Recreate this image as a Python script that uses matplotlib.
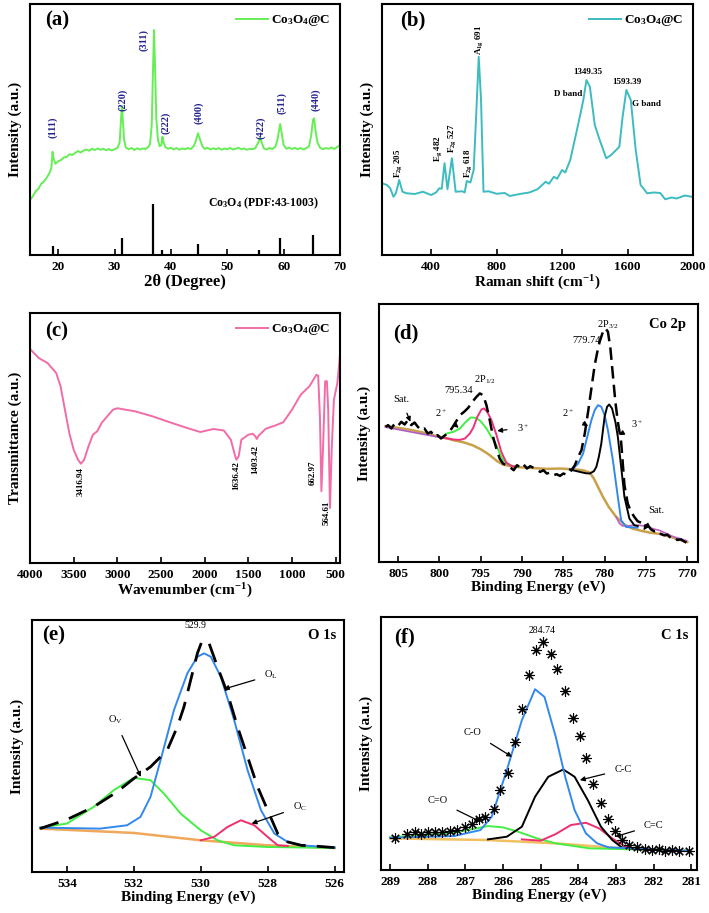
import matplotlib
matplotlib.use('Agg')
import matplotlib.pyplot as plt
import numpy as np

plt.rcParams['font.family'] = ['Liberation Serif', 'DejaVu Serif']
plt.rcParams['mathtext.default'] = 'regular'

# ---------------- (a) XRD ----------------
xrd_2theta = [15, 15.5, 16, 16.5, 17, 17.5, 18, 18.5, 18.8, 19.0, 19.2, 19.5, 20, 20.5, 21, 21.5, 22, 22.5,
              23, 23.5, 24, 24.5, 25, 25.5, 26, 26.5, 27, 27.5, 28, 28.5, 29, 29.5, 30, 30.5, 30.9, 31.1,
              31.3, 31.5, 31.7, 32, 32.5, 33, 33.5, 34, 34.5, 35, 35.5, 36, 36.3, 36.6, 36.8, 37.0, 37.2,
              37.4, 37.7, 38, 38.3, 38.5, 38.7, 39, 39.5, 40, 40.5, 41, 41.5, 42, 42.5, 43, 43.5, 44,
              44.4, 44.8, 45.2, 45.6, 46, 46.5, 47, 47.5, 48, 48.5, 49, 49.5, 50, 50.5, 51, 51.5, 52,
              52.5, 53, 53.5, 54, 54.5, 55, 55.5, 55.8, 56.1, 56.5, 57, 57.5, 58, 58.5, 58.9, 59.2,
              59.4, 59.7, 60, 60.5, 61, 61.5, 62, 62.5, 63, 63.5, 64, 64.5, 64.9, 65.2, 65.4, 65.7,
              66, 66.5, 67, 67.5, 68, 68.5, 69, 69.5, 70]
xrd_int = [22, 23.5, 25.5, 26.5, 28.5, 29.5, 31, 33, 35, 41.3, 38.5, 36.5, 37.5, 38, 39, 39.2, 40.3, 40,
           40.8, 41.6, 41, 41.8, 42.2, 41.7, 42.5, 42, 42.6, 42.1, 42.5, 41.9, 42.4, 41.8, 42.3, 42.8, 45, 52,
           59.6, 53, 46, 43, 42.3, 42.8, 42, 42.7, 42.2, 42.6, 42.4, 43.2, 44.5, 52, 72, 90, 74,
           55, 46, 43.5, 44, 47.3, 45, 43.2, 42.5, 42.9, 42.2, 42.8, 42.1, 42.6, 42.3, 42.8, 42.4, 43.4,
           45.5, 48.7, 46, 43.5, 42.4, 42.9, 42.2, 42.7, 42.3, 42.8, 42.1, 42.6, 42.3, 42.8, 42.2, 42.5, 42.9,
           42.3, 42.6, 42.1, 42.5, 42.3, 42.8, 45, 47, 45, 42.6, 42.2, 42.8, 42.4, 43.2, 46, 50,
           52.4, 48, 44, 42.5, 43, 42.4, 42.9, 42.3, 42.8, 42.2, 42.7, 43.5, 48, 54, 54.7, 49,
           45, 42.8, 42.3, 42.8, 42.5, 43, 42.4, 43.2, 44]
pdf_pos = [19.0, 31.3, 36.9, 38.5, 44.8, 55.6, 59.4, 65.2]
pdf_int = [3.6, 6.9, 20.4, 2.0, 4.3, 2.0, 6.7, 7.9]
hkl_labels = ['(111)', '(220)', '(311)', '(222)', '(400)', '(422)', '(511)', '(440)']
hkl_x = [19.0, 31.45, 35.1, 39.1, 44.9, 55.9, 59.7, 65.6]
hkl_y = [51.3, 62, 86, 53, 56.7, 51, 60.7, 62]

# ---------------- (b) Raman ----------------
raman_shift = [100, 130, 150, 170, 185, 205, 225, 250, 300, 350, 400, 430, 450, 465, 482, 500, 527, 550,
               590, 605, 618, 640, 660, 675, 691, 705, 720, 750, 800, 850, 880, 950, 1000, 1050, 1100,
               1120, 1150, 1170, 1200, 1220, 1250, 1300, 1330, 1349, 1370, 1400, 1430, 1470, 1500, 1550,
               1570, 1593, 1620, 1650, 1680, 1720, 1760, 1800, 1830, 1870, 1900, 1950, 2000]
raman_int = [28.7, 28, 26.7, 23.3, 24.7, 30, 25.3, 24.7, 24.4, 25.3, 24, 25, 26.7, 26.5, 36.7, 26.3, 38.7,
             25.3, 25.5, 25, 29.6, 29, 34, 55.3, 79.3, 62, 25.3, 25.5, 24.5, 24.8, 23.6, 24.5, 25, 26.3,
             29.3, 28.5, 31.3, 30.5, 34, 33, 38, 52.7, 62, 70, 67.3, 52, 46, 38.7, 40, 43.3, 55.3, 66, 62,
             42, 28, 24.7, 25, 24.8, 22.3, 23, 22.6, 23.8, 23.2]

# ---------------- (c) FTIR ----------------
ftir_wn = [4000, 3900, 3800, 3750, 3700, 3650, 3600, 3550, 3500, 3450, 3417, 3380, 3330, 3280, 3230, 3180,
           3100, 3050, 3000, 2900, 2800, 2600, 2400, 2200, 2050, 1900, 1780, 1700, 1650, 1636, 1610, 1580,
           1500, 1450, 1420, 1403, 1380, 1300, 1200, 1100, 1000, 900, 800, 720, 700, 680, 663, 645, 620,
           600, 585, 565, 545, 520, 480, 450]
ftir_t = [85.6, 82, 80, 78, 76, 70.7, 61.3, 52, 45.3, 41.3, 39.7, 41.3, 46.7, 51.3, 52.7, 56, 59.3, 61.3,
          61.9, 61.3, 60.7, 58.7, 56.3, 54, 52.4, 53.6, 53, 49.3, 42.7, 41.3, 42.7, 49.3, 51.3, 51.7, 50.7,
          49.6, 51, 53.7, 54.9, 56.3, 61.3, 67.3, 70.7, 75.3, 74.9, 58.7, 28.7, 45.3, 72.7, 72.7, 61.3, 22,
          45.3, 65.3, 72, 83.3]

# ---------------- (d) Co 2p ----------------
co_be = [806.5, 806.2, 805.8, 805.4, 805.0, 804.6, 804.2, 803.8, 803.4, 803.0, 802.6, 802.2, 801.8, 801.4,
         801.0, 800.6, 800.2, 799.8, 799.4, 799.0, 798.5, 798.0, 797.5, 797.0, 796.5, 796.0, 795.5, 795.1,
         794.7, 794.3, 793.9, 793.5, 793.1, 792.7, 792.3, 791.9, 791.5, 791.0, 790.6, 790.2, 789.8, 789.4,
         789.0, 788.6, 788.2, 787.8, 787.4, 787.0, 786.6, 786.2, 785.8, 785.4, 785.0, 784.6, 784.0, 783.6,
         783.2, 782.8, 782.4, 782.0, 781.6, 781.2, 780.8, 780.6, 780.2, 779.9, 779.6, 779.3, 779.0, 778.7,
         778.4, 778.0, 777.6, 777.2, 776.8, 776.4, 776.0, 775.6, 775.2, 774.8, 774.4, 774.0, 773.6, 773.2,
         772.8, 772.4, 772.0, 771.6, 771.2, 770.8, 770.4, 770.1]
co_int = [405, 410, 400, 415, 408, 420, 412, 425, 410, 418, 405, 395, 400, 385, 390, 375, 380, 370, 378,
          385, 400, 420, 440, 450, 462, 480, 495, 505, 500, 470, 425, 375, 340, 310, 295, 290, 285, 275, 290,
          283, 292, 280, 287, 282, 278, 270, 275, 265, 268, 260, 263, 258, 265, 262, 275, 290, 315, 335, 385,
          450, 520, 590, 640, 660, 690, 700, 690, 640, 560, 480, 420, 360, 230, 175, 150, 135, 122, 118, 108,
          112, 98, 92, 95, 84, 80, 82, 72, 74, 66, 68, 62, 58]
co_bg_be = [806.5, 805.0, 803.5, 802.0, 800.5, 799.0, 798.3, 797.0, 796.0, 795.0, 794.0, 793.0, 792.3, 791.0,
            789.0, 787.0, 785.4, 784.0, 783.0, 782.5, 781.8, 781.3, 780.8, 780.2, 779.5, 778.6, 777.6, 776.6,
            775.5, 774.5, 773.3, 772.0, 771.0, 770.0]
co_bg = [407, 402, 396, 388, 378, 370, 365, 358, 350, 338, 322, 302, 292, 285, 282, 279, 280, 278, 276, 274,
         268, 250, 225, 195, 165, 135, 112, 100, 93, 88, 84, 75, 67, 60]
co_sat1_be = [806.5, 805.0, 803.5, 802.0, 800.5, 800.0]
co_sat1 = [404, 397, 390, 383, 376, 374]
co_p12_2_be = [799.6, 799.1, 798.3, 797.5, 796.8, 796.2, 795.6, 795.0, 794.3, 793.7, 793.1, 792.6, 792.2,
               791.6, 791.0, 790.5]
co_p12_2 = [373, 385, 390, 400, 420, 433, 432, 422, 400, 375, 350, 320, 303, 292, 287, 285]
co_p12_3_be = [799.5, 798.3, 797.5, 796.9, 796.3, 795.9, 795.4, 794.9, 794.6, 794.2, 793.7, 793.1, 792.5,
               791.9, 791.3, 790.7]
co_p12_3 = [372, 367, 366, 370, 385, 402, 435, 457, 460, 450, 425, 382, 330, 298, 288, 285]
co_p32_2_be = [784.2, 783.8, 783.2, 782.6, 782.1, 781.6, 781.2, 780.8, 780.4, 780.0, 779.6, 779.0, 778.4,
               778.0, 777.4, 776.8, 776.0]
co_p32_2 = [278, 280, 295, 325, 375, 425, 455, 470, 465, 440, 395, 305, 195, 125, 105, 104, 103]
co_p32_3_be = [784.2, 783.0, 782.3, 781.8, 781.3, 781.0, 780.7, 780.4, 780.0, 779.7, 779.45, 779.1, 778.7,
               778.4, 778.0, 777.6, 777.0, 776.4, 776.0]
co_p32_3 = [277, 270, 266, 265, 272, 285, 315, 355, 435, 465, 472, 460, 420, 375, 285, 195, 130, 110, 108]
co_sat2_be = [778.6, 778.2, 777.8, 777.2, 776.6, 775.8, 775.0, 774.2, 773.3, 772.5, 771.7, 770.9, 770.1]
co_sat2 = [135, 115, 108, 108, 110, 110, 107, 100, 94, 85, 76, 70, 64]

# ---------------- (e) O 1s ----------------
o_env_be = [534.8, 534.0, 533.2, 532.5, 532.0, 531.5, 531.0, 530.7, 530.5, 530.3, 530.1, 529.95, 529.75,
            529.5, 529.2, 528.9, 528.6, 528.3, 528.0, 527.7, 527.4, 527.0, 526.5, 526.0]
o_env = [130, 157, 195, 240, 280, 315, 365, 435, 495, 575, 655, 695, 685, 615, 535, 435, 345, 255, 185, 115,
         90, 80, 77, 73]
o_bg_be = [534.8, 532.0, 530.0, 528.0, 526.0]
o_bg = [130, 117, 95, 80, 72]
o_v_be = [534.8, 534.0, 533.2, 532.6, 532.0, 531.5, 531.1, 530.6, 530.0, 529.5, 529.0, 528.0, 526.0]
o_v = [133, 145, 195, 245, 282, 275, 235, 175, 125, 95, 80, 75, 72]
o_l_be = [534.8, 533.0, 532.2, 531.8, 531.5, 531.2, 530.8, 530.4, 530.1, 529.9, 529.7, 529.4, 529.0, 528.6,
          528.2, 527.8, 527.4, 527.0, 526.0]
o_l = [133, 130, 140, 165, 225, 335, 485, 595, 645, 655, 645, 585, 455, 305, 185, 115, 90, 80, 73]
o_c_be = [530.0, 529.6, 529.2, 528.8, 528.4, 528.0, 527.7, 527.4]
o_c = [95, 105, 135, 155, 140, 105, 80, 78]

# ---------------- (f) C 1s ----------------
c_be = [288.88, 288.56, 288.35, 288.18, 287.98, 287.80, 287.61, 287.41, 287.23, 287.01, 286.83, 286.65,
        286.48, 286.25, 286.08, 285.87, 285.68, 285.50, 285.32, 285.13, 284.93, 284.73, 284.57, 284.35,
        284.15, 283.95, 283.80, 283.60, 283.39, 283.20, 283.02, 282.84, 282.65, 282.45, 282.22, 282.05,
        281.87, 281.69, 281.52, 281.34, 281.07]
c_int = [97, 108, 115, 107, 115, 113, 115, 117, 120, 128, 138, 152, 158, 182, 240, 292, 385, 485, 587, 662,
         685, 650, 605, 538, 458, 402, 336, 258, 202, 153, 118, 90, 75, 70, 63, 60, 62, 58, 60, 57, 58]
c_bg_be = [289.0, 286.4, 284.6, 282.85, 281.1]
c_bg = [95, 90, 80, 65, 58]
c_co2_be = [289.0, 287.3, 286.4, 286.0, 285.6, 285.1, 284.6, 283.7, 281.1]
c_co2 = [98, 112, 132, 128, 115, 95, 80, 65, 58]
c_co_be = [289.0, 287.3, 286.6, 286.3, 285.9, 285.5, 285.15, 284.9, 284.6, 284.35, 284.1, 283.8, 283.5,
           283.2, 281.1]
c_co = [97, 102, 120, 160, 300, 450, 543, 520, 400, 280, 180, 110, 80, 68, 58]
c_cc_be = [286.4, 285.9, 285.5, 285.15, 284.8, 284.4, 284.1, 283.75, 283.4, 283.1, 282.85, 282.4]
c_cc = [92, 100, 130, 220, 280, 302, 280, 210, 130, 90, 68, 62]
c_c2_be = [285.5, 285.0, 284.6, 284.2, 283.8, 283.45, 283.1, 282.75, 282.4]
c_c2 = [92, 88, 108, 135, 142, 125, 95, 70, 62]


def px_axes(fig, left, top, right, bottom):
    W, H = 709, 913
    return fig.add_axes([left / W, 1 - bottom / H, (right - left) / W, (bottom - top) / H])


def style(ax, xlabel, ylabel, letter, lx, ly):
    for s in ax.spines.values():
        s.set_linewidth(1.5)
    ax.set_yticks([])
    ax.tick_params(axis='x', direction='in', length=4, width=1.2, labelsize=9.5, pad=4)
    for t in ax.get_xticklabels():
        t.set_fontweight('bold')
    ax.set_xlabel(xlabel, fontsize=11, fontweight='bold', labelpad=1)
    ax.set_ylabel(ylabel, fontsize=11, fontweight='bold', labelpad=6)
    ax.text(lx, ly, letter, transform=ax.transAxes, fontsize=15, fontweight='bold', ha='left', va='center')


def arrow(ax, text, xy, xytext, fs=7.5):
    ax.annotate(text, xy=xy, xytext=xytext, fontsize=fs, ha='center', va='center',
                arrowprops=dict(arrowstyle='-|>', color='black', lw=0.9, mutation_scale=7,
                                shrinkA=5, shrinkB=0))


fig = plt.figure(figsize=(7.09, 9.13), dpi=100)
legend_kw = dict(loc='upper right', frameon=False, handlelength=2.4, handletextpad=0.25, borderaxespad=0.3,
                 prop={'weight': 'bold', 'size': 9.5})

# (a)
ax = px_axes(fig, 30, 4, 340, 255)
ax.plot(xrd_2theta, xrd_int, color='#66ee55', lw=1.4, label='Co$_3$O$_4$@C')
ax.vlines(pdf_pos, 0, pdf_int, color='black', lw=1.6)
for lab, x, y in zip(hkl_labels, hkl_x, hkl_y):
    ax.text(x, y, lab, rotation=90, ha='center', va='center', color='#23238f', fontsize=7.5, fontweight='bold')
ax.text(56.4, 20.7, 'Co$_3$O$_4$ (PDF:43-1003)', ha='center', va='center', fontsize=8.5, fontweight='bold')
ax.set_xlim(15, 70)
ax.set_ylim(0, 100.4)
ax.set_xticks([20, 30, 40, 50, 60, 70])
style(ax, '2θ (Degree)', 'Intensity (a.u.)', '(a)', 0.048, 0.934)
ax.xaxis.label.set_size(12)
ax.legend(**legend_kw)

# (b)
ax = px_axes(fig, 382, 4, 693, 255)
ax.plot(raman_shift, raman_int, color='#3cbcc0', lw=1.4, label='Co$_3$O$_4$@C')
for lab, x, y in [('F$_{2g}$ 205', 201, 36.7), ('E$_g$ 482', 445, 42.7), ('F$_{2g}$ 527', 527, 46.7),
                  ('F$_{2g}$ 618', 628, 36.7), ('A$_{1g}$ 691', 693, 86)]:
    ax.text(x, y, lab, rotation=90, ha='center', va='center', fontsize=6.5, fontweight='bold')
for lab, x, y in [('1349.35', 1356, 73), ('D band', 1238, 64.4), ('1593.39', 1594, 69), ('G band', 1716, 60.4)]:
    ax.text(x, y, lab, ha='center', va='center', fontsize=6.5, fontweight='bold')
ax.set_xlim(100, 2000)
ax.set_ylim(0, 100.4)
ax.set_xticks([400, 800, 1200, 1600, 2000])
style(ax, 'Raman shift (cm$^{-1}$)', 'Intensity (a.u.)', '(b)', 0.059, 0.935)
ax.legend(**legend_kw)

# (c)
ax = px_axes(fig, 30, 313, 340, 563)
ax.plot(ftir_wn, ftir_t, color='#f26ca7', lw=1.4, label='Co$_3$O$_4$@C')
for lab, x, y in [('3416.94', 3417, 32.7), ('1636.42', 1636, 35), ('1403.42', 1425, 41.3),
                  ('662.97', 767, 36), ('564.61', 603, 20)]:
    ax.text(x, y, lab, rotation=90, ha='center', va='center', fontsize=6.5, fontweight='bold')
ax.set_xlim(4000, 450)
ax.set_ylim(0, 100)
ax.set_xticks([4000, 3500, 3000, 2500, 2000, 1500, 1000, 500])
style(ax, 'Wavenumber (cm$^{-1}$)', 'Transmittance (a.u.)', '(c)', 0.048, 0.927)
ax.legend(**legend_kw)

# (d)
ax = px_axes(fig, 379, 304, 698, 562)
ax.plot(co_bg_be, co_bg, color='#c9a04a', lw=1.8)
ax.plot(co_sat1_be, co_sat1, color='#b05cc8', lw=1.2)
ax.plot(co_sat2_be, co_sat2, color='#c060c0', lw=1.2)
ax.plot(co_p12_2_be, co_p12_2, color='#44ee44', lw=1.4)
ax.plot(co_p12_3_be, co_p12_3, color='#f0307a', lw=1.4)
ax.plot(co_p32_2_be, co_p32_2, color='#3388ee', lw=1.4)
ax.plot(co_p32_3_be, co_p32_3, color='black', lw=1.4)
ax.plot(co_be, co_int, color='black', lw=1.8, linestyle=(0, (5, 2.5)))
ax.text(779.6, 712, '2P$_{3/2}$', fontsize=7.5, ha='center', va='center')
ax.text(782.2, 665, '779.74', fontsize=7.5, ha='center', va='center')
ax.text(794.5, 545, '2P$_{1/2}$', fontsize=7.5, ha='center', va='center')
ax.text(797.7, 515, '795.34', fontsize=7.5, ha='center', va='center')
arrow(ax, 'Sat.', (803.5, 420), (804.6, 487))
arrow(ax, '2$^+$', (797.65, 402), (799.8, 445))
arrow(ax, '3$^+$', (793.0, 393), (789.9, 402))
arrow(ax, '2$^+$', (782.0, 407), (784.4, 445))
arrow(ax, '3$^+$', (778.25, 380), (776.0, 413))
arrow(ax, 'Sat.', (775.3, 95), (773.7, 155))
ax.text(0.963, 0.92, 'Co 2p', transform=ax.transAxes, fontsize=10.5, fontweight='bold', ha='right', va='center')
ax.set_xlim(807.3, 768.7)
ax.set_ylim(0, 773)
ax.set_xticks([805, 800, 795, 790, 785, 780, 775, 770])
style(ax, 'Binding Energy (eV)', 'Intensity (a.u.)', '(d)', 0.045, 0.886)

# (e)
ax = px_axes(fig, 32, 620, 344, 872)
ax.plot(o_bg_be, o_bg, color='#f0a85a', lw=1.8)
ax.plot(o_v_be, o_v, color='#44ee44', lw=1.4)
ax.plot(o_c_be, o_c, color='#ee2f72', lw=1.4)
ax.plot(o_l_be, o_l, color='#3388ee', lw=1.4)
ax.plot(o_env_be, o_env, color='black', lw=2.0, linestyle=(0, (7, 4)))
ax.text(530.17, 740, '529.9', fontsize=7, ha='center', va='center')
arrow(ax, 'O$_L$', (529.31, 548), (527.9, 590))
arrow(ax, 'O$_V$', (531.79, 285), (532.56, 455))
arrow(ax, 'O$_C$', (528.48, 145), (527.04, 195))
ax.text(0.975, 0.94, 'O 1s', transform=ax.transAxes, fontsize=10.5, fontweight='bold', ha='right', va='center')
ax.set_xlim(535.04, 525.72)
ax.set_ylim(0, 755)
ax.set_xticks([534, 532, 530, 528, 526])
style(ax, 'Binding Energy (eV)', 'Intensity (a.u.)', '(e)', 0.032, 0.94)

# (f)
ax = px_axes(fig, 381, 617, 697, 870)
ax.plot(c_bg_be, c_bg, color='#f2c060', lw=1.8)
ax.plot(c_co2_be, c_co2, color='#44ee44', lw=1.4)
ax.plot(c_c2_be, c_c2, color='#ee2f72', lw=1.4)
ax.plot(c_cc_be, c_cc, color='black', lw=1.4)
ax.plot(c_co_be, c_co, color='#3388ee', lw=1.4)
ax.plot(c_be, c_int, linestyle='none', marker=(8, 2, 0), markersize=7.5, mew=0.8, color='black')
ax.text(284.96, 718, '284.74', fontsize=7, ha='center', va='center')
arrow(ax, 'C-O', (285.76, 340), (286.8, 413))
arrow(ax, 'C-C', (283.96, 270), (282.82, 302))
arrow(ax, 'C=O', (286.6, 145), (287.73, 208))
arrow(ax, 'C=C', (283.02, 100), (282.0, 135))
ax.text(0.974, 0.928, 'C 1s', transform=ax.transAxes, fontsize=10.5, fontweight='bold', ha='right', va='center')
ax.set_xlim(289.24, 280.85)
ax.set_ylim(0, 760)
ax.set_xticks([289, 288, 287, 286, 285, 284, 283, 282, 281])
style(ax, 'Binding Energy (eV)', 'Intensity (a.u.)', '(f)', 0.042, 0.92)

fig.savefig('out.png', dpi=100)
